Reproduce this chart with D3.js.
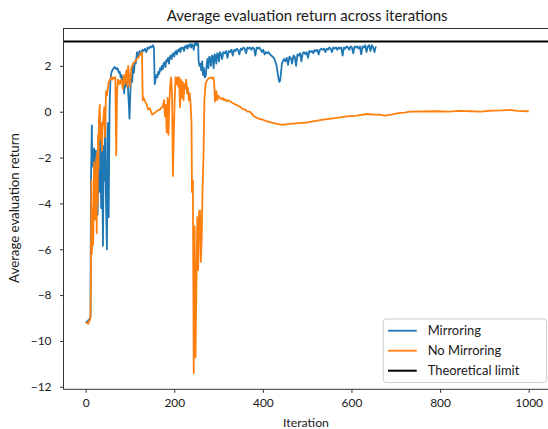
<!DOCTYPE html>
<html><head><meta charset="utf-8">
<script src="https://cdn.jsdelivr.net/npm/d3@7"></script>
<style>
body{margin:0;background:#fff}
svg{display:block}
text{font-family:Lato, "Liberation Sans", sans-serif; fill:#1a1a1a}
</style>
</head><body>
<svg id="c" width="548" height="429"></svg>
<script>
const xTicks = [0, 200, 400, 600, 800, 1000];
const yTicks = [-12, -10, -8, -6, -4, -2, 0, 2];
const theoreticalLimit = 3.06;
const seriesNames = ["Mirroring", "No Mirroring", "Theoretical limit"];
const seriesColors = ["#1f77b4", "#ff7f0e", "#000000"];

const mirroring = [
[0,-9.15],[3,-9.2],[6,-9.1],[9,-9.05],[11,-8.9],[12,-3.0],[14,-0.6],[15,-2.4],[17,-2.3],[19,-1.6],[21,-4.7],[23,-1.7],[25,-3.2],[27,-4.5],[29,-2.0],[31,-3.5],[33,-1.0],[35,-4.2],[37,-0.5],[39,-5.85],[41,-1.5],[43,-3.0],[44,0.0],[46,-4.0],[48,-6.0],[50,-0.5],[52,-4.6],[54,0.2],[56,1.4],[58,1.7],
[60,1.8],[63,1.9],[66,1.95],[69,1.85],[72,1.9],[75,1.7],[77,1.75],[79,1.5],[81,1.6],[83,1.3],[85,1.5],[87,0.8],[89,1.4],[91,1.1],[93,1.6],[95,1.2],[97,0.5],[99,-0.3],[101,0.9],[103,1.6],[105,1.3],[107,2.0],[109,1.7],[111,2.2],[113,2.1],[116,2.6],[119,2.4],[122,2.65],[125,2.5],[128,2.7],[131,2.65],[134,2.75],[137,2.6],[140,2.8],[143,2.75],[146,2.85],[149,2.8],[152,2.9],[154,2.8],
[156,1.2],[158,1.45],[160,1.6],[162,1.5],[164,1.75],[166,1.65],[168,1.9],[170,1.8],[172,2.0],[174,1.85],[176,2.1],[178,2.15],[180,1.95],[182,2.25],[184,2.2],[186,2.35],[188,2.1],[190,2.4],[192,2.45],[194,2.3],[196,2.5],[198,2.55],[200,2.4],[202,2.6],[204,2.65],[206,2.5],[208,2.7],[210,2.65],[212,2.75],[214,2.6],[216,2.8],[218,2.75],[220,2.8],[222,2.65],[224,2.85],[226,2.8],[228,2.9],[230,2.75],[232,2.9],[234,2.85],[236,2.95],[238,2.8],[240,2.95],[242,2.9],[244,2.7],[246,2.95],[248,3.0],[250,2.9],[252,3.0],[254,2.95],
[255,2.2],[257,2.0],[259,2.1],[261,1.8],[263,2.2],[265,1.6],[267,1.9],[269,1.5],[271,1.55],[273,2.0],[275,2.3],[277,1.9],[279,2.4],[281,2.35],[283,2.0],[285,2.45],[287,2.4],[289,1.9],[291,2.5],[293,2.45],[295,2.1],[297,2.55],[299,2.5],[301,2.2],[303,2.6],[305,2.55],[308,2.3],[311,2.6],[314,2.55],[317,2.65],[320,2.35],
[323,2.65],[326,2.6],[329,2.7],[332,2.45],[335,2.7],[338,2.65],[341,2.75],[344,2.7],[347,2.5],[350,2.75],[353,2.7],[356,2.8],[359,2.75],[362,2.55],[365,2.8],[368,2.75],[371,2.8],[374,2.7],[377,2.8],[380,2.75],[383,2.45],[386,2.8],[389,2.75],[392,2.8],[395,2.7],[398,2.6],[401,2.7],[404,2.5],[407,2.6],[410,2.55],[413,2.6],[416,2.5],[419,2.45],[422,2.4],[425,2.35],[428,2.2],[431,2.0],[433,1.75],[435,1.5],[437,1.3],[439,1.35],[441,1.7],[443,2.1],[445,2.2],[448,2.3],[451,2.2],[454,2.35],[457,2.05],[460,2.4],[463,2.35],[466,2.1],[469,2.45],[472,2.4],[475,2.0],[478,2.5],[481,2.45],[484,2.55],[487,2.2],[490,2.55],[493,2.6],[496,2.5],[499,2.6],
[502,2.35],[505,2.65],[508,2.6],[511,2.65],[514,2.55],[517,2.7],[520,2.65],[523,2.7],[526,2.5],[529,2.7],[532,2.75],[535,2.7],[538,2.75],[541,2.6],[544,2.75],[547,2.7],[550,2.8],[553,2.75],[556,2.6],[559,2.8],[562,2.75],[565,2.8],[568,2.7],[571,2.8],[574,2.75],[577,2.8],[580,2.45],[583,2.8],[586,2.75],[589,2.85],[592,2.8],[595,2.7],[598,2.85],[601,2.8],[604,2.55],[607,2.85],[610,2.8],[613,2.85],[616,2.75],[619,2.85],[622,2.5],[625,2.85],[628,2.8],[631,2.9],[634,2.6],[637,2.85],[640,2.9],[643,2.65],[646,2.9],[649,2.8],[652,2.6],[655,2.85]
];

const noMirroring = [
[0,-9.2],[3,-9.2],[6,-9.25],[9,-9.1],[11,-9.0],[12,-6.4],[13,-3.0],[14,-6.2],[15,-5.7],[16,-4.2],[17,-5.8],[18,-4.3],[19,-2.2],[20,-4.4],[21,-2.6],[22,-4.7],[24,-2.0],[25,-5.3],[26,-1.8],[27,-4.0],[28,-1.0],[29,-2.5],[30,-0.3],[32,0.3],[33,-1.2],[35,-0.5],[37,-1.7],[38,-0.8],[40,-0.3],[42,0.2],[44,-1.1],[46,0.9],[48,0.7],[50,1.0],[52,1.3],[55,1.4],[58,1.5],[60,1.4],[62,1.5],[65,1.45],[67,1.5],[69,-1.9],[71,0.9],[73,1.4],[75,1.35],[77,1.2],[80,1.4],[82,1.3],[84,1.0],[86,1.6],[88,1.2],[90,1.5],[92,1.8],[94,1.1],[96,2.0],[98,1.5],[100,1.1],[103,1.9],[107,2.1],[112,2.2],[116,2.3],[120,2.4],[123,2.5],[127,2.6],
[129,0.5],[131,0.6],[134,0.45],[138,0.3],[141,0.1],[145,0.15],[150,-0.13],[156,-0.05],[162,0.05],[168,0.1],[172,0.2],[174,0.2],[177,0.5],[179,-0.2],[181,0.3],[183,-0.9],[185,0.6],[187,-1.0],[189,0.4],[191,1.2],[193,1.5],[195,0.8],[197,-2.8],[199,-1.0],[201,0.5],[203,1.5],[205,1.2],[207,1.5],[209,1.1],[211,1.5],[213,0.2],[215,1.4],[217,0.6],[219,1.3],[221,0.5],[223,1.2],[225,1.0],[227,1.4],[229,0.8],[231,1.05],[233,0.5],[235,0.8],[237,0.3],[239,-0.5],
[240,-3.5],[242,-3.0],[244,-11.4],[246,-5.0],[248,-10.7],[250,-7.7],[252,-4.6],[254,-6.9],[256,-4.4],[258,-4.3],[260,-6.55],[262,-5.5],[264,-3.3],[266,-2.0],[268,0.5],[271,1.25],[275,1.4],[278,1.45],[282,1.5],[285,1.45],[288,1.5],[290,1.3],[292,0.45],[295,0.9],[297,0.5],[300,0.7],[303,0.6],[306,0.55],[309,0.6],[312,0.5],[315,0.55],[318,0.45],[322,0.5],[326,0.45],[330,0.4],[335,0.35],[340,0.3],[345,0.25],[350,0.2],[355,0.1],[360,0.1],[365,0.0],[371,0.0],[380,-0.2],[390,-0.3],[400,-0.35],[410,-0.42],[420,-0.48],[430,-0.52],[443,-0.57],[461,-0.53],[480,-0.5],[500,-0.47],[520,-0.4],[536,-0.35],[555,-0.3],[574,-0.25],[590,-0.2],[612,-0.17],[635,-0.1],[650,-0.13],[664,-0.13],[675,-0.17],[687,-0.14],[700,-0.08],[709,-0.05],[720,-0.04],[732,0.0],[760,0.01],[790,0.02],[820,0.0],[845,0.04],[870,0.02],[890,0.0],[905,0.03],[919,0.05],[940,0.06],[958,0.08],[975,0.04],[1000,0.02]
];

const svg = d3.select("#c");
const m = {left: 63.5, right: 550.8, top: 28.5, bottom: 389.3};
const x = d3.scaleLinear().domain([-50, 1050]).range([m.left, m.right]);
const y = d3.scaleLinear().domain([-12.11, 3.63]).range([m.bottom, m.top]);

function fit(sel, target) {
  const w = sel.node().getComputedTextLength();
  const fs = parseFloat(sel.attr("font-size"));
  sel.attr("font-size", fs * target / w);
  return fs * target / w;
}

// tick font size fitted from the "1000" label width
const probe = svg.append("text").attr("font-size", 12).text("1000");
const tickFs = fit(probe, 27.7);
probe.remove();

svg.append("clipPath").attr("id", "clip").append("rect")
  .attr("x", m.left).attr("y", m.top).attr("width", m.right - m.left).attr("height", m.bottom - m.top);

const line = d3.line().x(d => x(d[0])).y(d => y(d[1]));
const plot = svg.append("g").attr("clip-path", "url(#clip)");
plot.append("path").datum(mirroring).attr("d", line)
  .attr("fill", "none").attr("stroke", seriesColors[0]).attr("stroke-width", 1.8).attr("stroke-linejoin", "round");
plot.append("path").datum(noMirroring).attr("d", line)
  .attr("fill", "none").attr("stroke", seriesColors[1]).attr("stroke-width", 1.8).attr("stroke-linejoin", "round");
plot.append("line").attr("x1", m.left).attr("x2", m.right)
  .attr("y1", y(theoreticalLimit)).attr("y2", y(theoreticalLimit))
  .attr("stroke", seriesColors[2]).attr("stroke-width", 2);

// frame
svg.append("rect").attr("x", m.left).attr("y", m.top).attr("width", m.right - m.left).attr("height", m.bottom - m.top)
  .attr("fill", "none").attr("stroke", "#333").attr("stroke-width", 1);

const fmt = d => d < 0 ? "\u2212" + Math.abs(d) : String(d);
const gx = svg.append("g").attr("transform", `translate(0,${m.bottom})`)
  .call(d3.axisBottom(x).tickValues(xTicks).tickFormat(fmt).tickSize(3.5).tickPadding(6));
const gy = svg.append("g").attr("transform", `translate(${m.left},0)`)
  .call(d3.axisLeft(y).tickValues(yTicks).tickFormat(fmt).tickSize(3.5).tickPadding(8.5));
[gx, gy].forEach(g => {
  g.select(".domain").remove();
  g.selectAll(".tick line").attr("stroke", "#333").attr("stroke-width", 1);
  g.selectAll(".tick text").attr("font-family", null).attr("font-size", tickFs).attr("fill", "#1a1a1a");
});
gx.attr("font-family", null); gy.attr("font-family", null);

const title = svg.append("text").attr("x", (m.left + m.right) / 2).attr("y", 20.5)
  .attr("text-anchor", "middle").attr("font-size", 14).text("Average evaluation return across iterations");
fit(title, 281);

const xl = svg.append("text").attr("x", 306).attr("y", 426.5)
  .attr("text-anchor", "middle").attr("font-size", 12).text("Iteration");
fit(xl, 46);

const yl = svg.append("text").attr("transform", "translate(19,208) rotate(-90)")
  .attr("text-anchor", "middle").attr("font-size", 12).text("Average evaluation return");
fit(yl, 150);

// legend
const lg = svg.append("g");
lg.append("rect").attr("x", 383.3).attr("y", 319).attr("width", 163.4).attr("height", 63.5)
  .attr("rx", 3).attr("fill", "#fff").attr("fill-opacity", 0.8).attr("stroke", "#cccccc").attr("stroke-width", 1);
const probe2 = svg.append("text").attr("font-size", 12).text(seriesNames[2]);
const legFs = fit(probe2, 91.7);
probe2.remove();
seriesNames.forEach((name, i) => {
  const cy = 330.7 + i * 20;
  lg.append("line").attr("x1", 388).attr("x2", 416.7).attr("y1", cy).attr("y2", cy)
    .attr("stroke", seriesColors[i]).attr("stroke-width", i === 2 ? 2 : 1.8);
  lg.append("text").attr("x", 427.7).attr("y", cy).attr("dy", "0.35em")
    .attr("font-size", legFs).text(name);
});
</script>
</body></html>
